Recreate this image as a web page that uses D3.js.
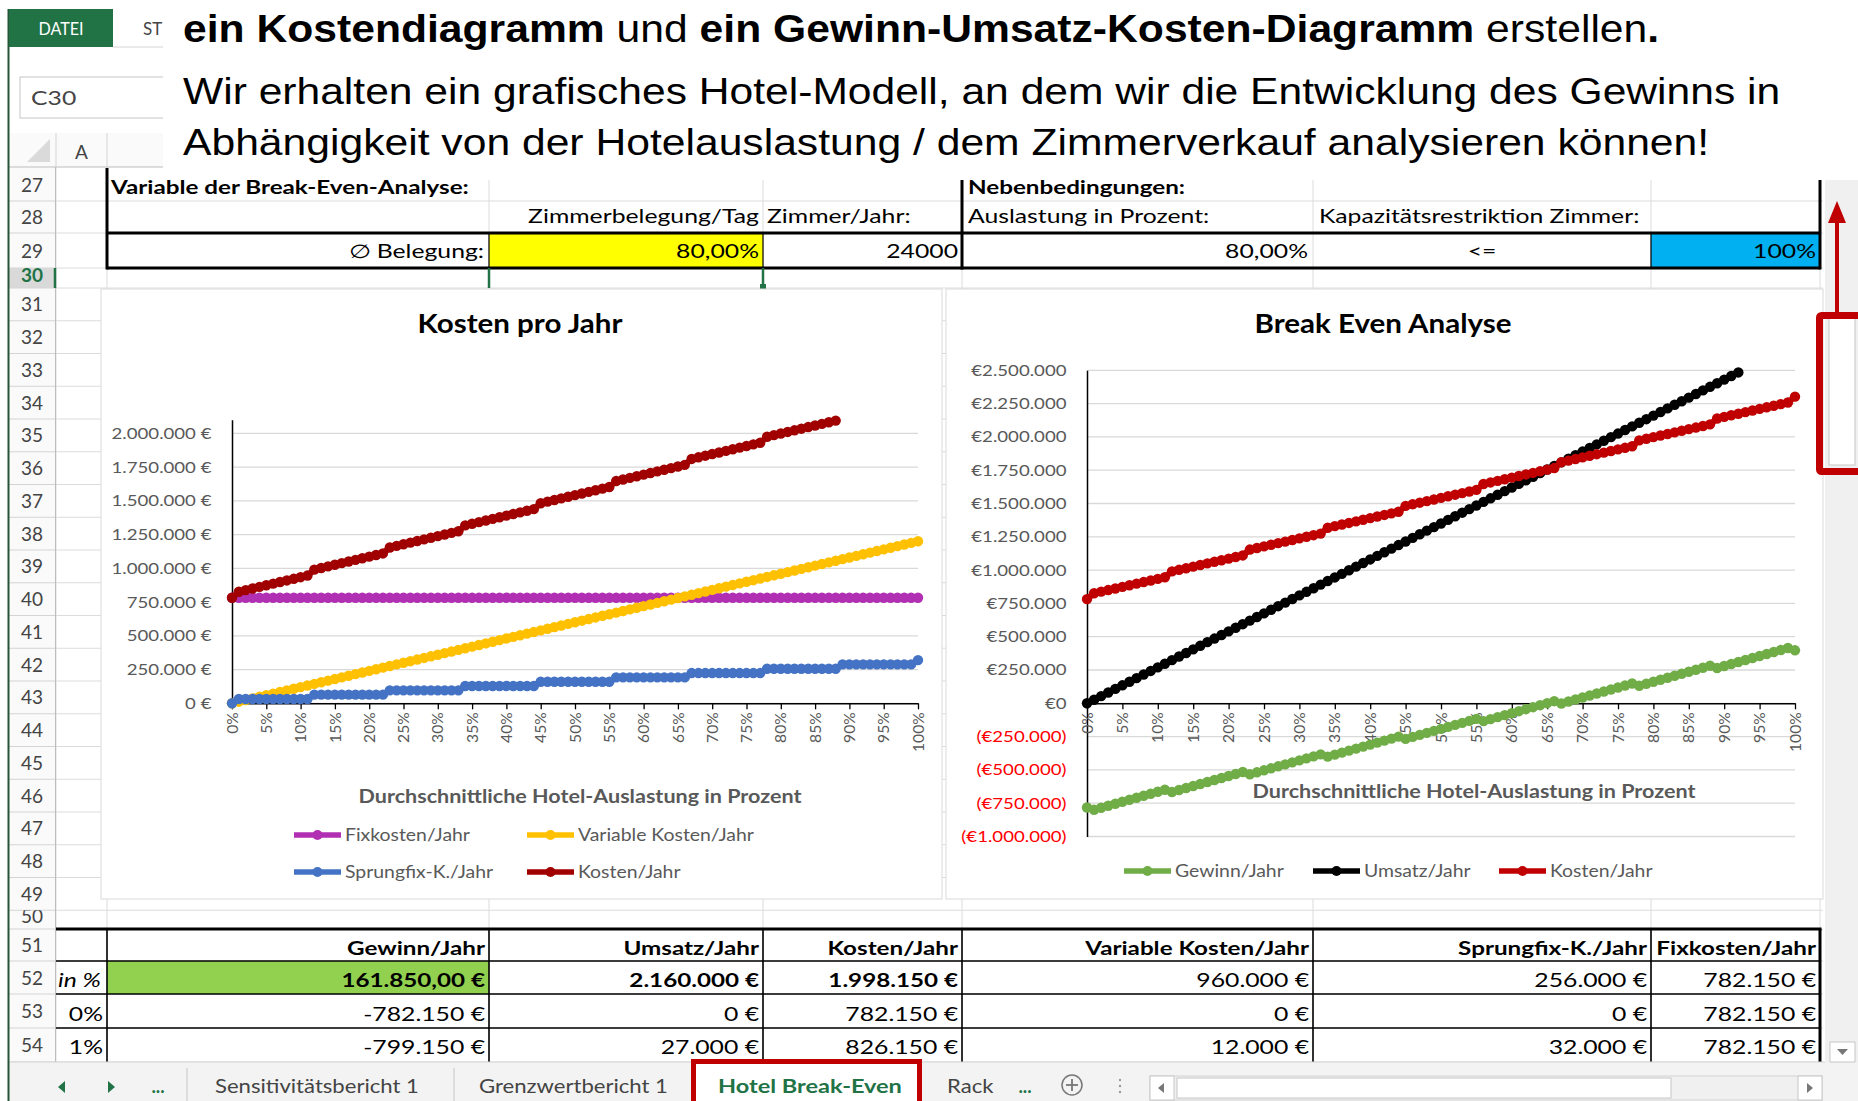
<!DOCTYPE html>
<html lang="de">
<head>
<meta charset="utf-8">
<title>Hotel Break-Even</title>
<script src="https://cdn.jsdelivr.net/npm/d3@7"></script>
<style>
  html, body { margin: 0; padding: 0; background: #fff; }
  svg { display: block; }
</style>
</head>
<body>
<svg id="blatt" width="1858" height="1101"></svg>
<script>
// Werte aus dem Blatt "Hotel Break-Even", eine Zeile je Prozent Auslastung (0% .. 100%)
const auslastung = [
  0, 1, 2, 3, 4, 5, 6, 7, 8, 9, 10, 11, 12, 13, 14, 15, 16, 17, 18, 19,
  20, 21, 22, 23, 24, 25, 26, 27, 28, 29, 30, 31, 32, 33, 34, 35, 36, 37, 38, 39,
  40, 41, 42, 43, 44, 45, 46, 47, 48, 49, 50, 51, 52, 53, 54, 55, 56, 57, 58, 59,
  60, 61, 62, 63, 64, 65, 66, 67, 68, 69, 70, 71, 72, 73, 74, 75, 76, 77, 78, 79,
  80, 81, 82, 83, 84, 85, 86, 87, 88, 89, 90, 91, 92, 93, 94, 95, 96, 97, 98, 99, 100
];

const fixkosten = [
  782150, 782150, 782150, 782150, 782150, 782150, 782150, 782150, 782150, 782150,
  782150, 782150, 782150, 782150, 782150, 782150, 782150, 782150, 782150, 782150,
  782150, 782150, 782150, 782150, 782150, 782150, 782150, 782150, 782150, 782150,
  782150, 782150, 782150, 782150, 782150, 782150, 782150, 782150, 782150, 782150,
  782150, 782150, 782150, 782150, 782150, 782150, 782150, 782150, 782150, 782150,
  782150, 782150, 782150, 782150, 782150, 782150, 782150, 782150, 782150, 782150,
  782150, 782150, 782150, 782150, 782150, 782150, 782150, 782150, 782150, 782150,
  782150, 782150, 782150, 782150, 782150, 782150, 782150, 782150, 782150, 782150,
  782150, 782150, 782150, 782150, 782150, 782150, 782150, 782150, 782150, 782150,
  782150, 782150, 782150, 782150, 782150, 782150, 782150, 782150, 782150, 782150,
  782150
];

const variableKosten = [
  0, 12000, 24000, 36000, 48000, 60000, 72000, 84000, 96000, 108000,
  120000, 132000, 144000, 156000, 168000, 180000, 192000, 204000, 216000, 228000,
  240000, 252000, 264000, 276000, 288000, 300000, 312000, 324000, 336000, 348000,
  360000, 372000, 384000, 396000, 408000, 420000, 432000, 444000, 456000, 468000,
  480000, 492000, 504000, 516000, 528000, 540000, 552000, 564000, 576000, 588000,
  600000, 612000, 624000, 636000, 648000, 660000, 672000, 684000, 696000, 708000,
  720000, 732000, 744000, 756000, 768000, 780000, 792000, 804000, 816000, 828000,
  840000, 852000, 864000, 876000, 888000, 900000, 912000, 924000, 936000, 948000,
  960000, 972000, 984000, 996000, 1008000, 1020000, 1032000, 1044000, 1056000, 1068000,
  1080000, 1092000, 1104000, 1116000, 1128000, 1140000, 1152000, 1164000, 1176000, 1188000,
  1200000
];

const sprungfixKosten = [
  0, 32000, 32000, 32000, 32000, 32000, 32000, 32000, 32000, 32000,
  32000, 32000, 64000, 64000, 64000, 64000, 64000, 64000, 64000, 64000,
  64000, 64000, 64000, 96000, 96000, 96000, 96000, 96000, 96000, 96000,
  96000, 96000, 96000, 96000, 128000, 128000, 128000, 128000, 128000, 128000,
  128000, 128000, 128000, 128000, 128000, 160000, 160000, 160000, 160000, 160000,
  160000, 160000, 160000, 160000, 160000, 160000, 192000, 192000, 192000, 192000,
  192000, 192000, 192000, 192000, 192000, 192000, 192000, 224000, 224000, 224000,
  224000, 224000, 224000, 224000, 224000, 224000, 224000, 224000, 256000, 256000,
  256000, 256000, 256000, 256000, 256000, 256000, 256000, 256000, 256000, 288000,
  288000, 288000, 288000, 288000, 288000, 288000, 288000, 288000, 288000, 288000,
  320000
];

const kostenJahr = [
  782150, 826150, 838150, 850150, 862150, 874150, 886150, 898150, 910150, 922150,
  934150, 946150, 990150, 1002150, 1014150, 1026150, 1038150, 1050150, 1062150, 1074150,
  1086150, 1098150, 1110150, 1154150, 1166150, 1178150, 1190150, 1202150, 1214150, 1226150,
  1238150, 1250150, 1262150, 1274150, 1318150, 1330150, 1342150, 1354150, 1366150, 1378150,
  1390150, 1402150, 1414150, 1426150, 1438150, 1482150, 1494150, 1506150, 1518150, 1530150,
  1542150, 1554150, 1566150, 1578150, 1590150, 1602150, 1646150, 1658150, 1670150, 1682150,
  1694150, 1706150, 1718150, 1730150, 1742150, 1754150, 1766150, 1810150, 1822150, 1834150,
  1846150, 1858150, 1870150, 1882150, 1894150, 1906150, 1918150, 1930150, 1974150, 1986150,
  1998150, 2010150, 2022150, 2034150, 2046150, 2058150, 2070150, 2082150, 2094150, 2138150,
  2150150, 2162150, 2174150, 2186150, 2198150, 2210150, 2222150, 2234150, 2246150, 2258150,
  2302150
];

const umsatzJahr = [
  0, 27000, 54000, 81000, 108000, 135000, 162000, 189000, 216000, 243000,
  270000, 297000, 324000, 351000, 378000, 405000, 432000, 459000, 486000, 513000,
  540000, 567000, 594000, 621000, 648000, 675000, 702000, 729000, 756000, 783000,
  810000, 837000, 864000, 891000, 918000, 945000, 972000, 999000, 1026000, 1053000,
  1080000, 1107000, 1134000, 1161000, 1188000, 1215000, 1242000, 1269000, 1296000, 1323000,
  1350000, 1377000, 1404000, 1431000, 1458000, 1485000, 1512000, 1539000, 1566000, 1593000,
  1620000, 1647000, 1674000, 1701000, 1728000, 1755000, 1782000, 1809000, 1836000, 1863000,
  1890000, 1917000, 1944000, 1971000, 1998000, 2025000, 2052000, 2079000, 2106000, 2133000,
  2160000, 2187000, 2214000, 2241000, 2268000, 2295000, 2322000, 2349000, 2376000, 2403000,
  2430000, 2457000, 2484000, 2511000, 2538000, 2565000, 2592000, 2619000, 2646000, 2673000,
  2700000
];

const gewinnJahr = [
  -782150, -799150, -784150, -769150, -754150, -739150, -724150, -709150, -694150, -679150,
  -664150, -649150, -666150, -651150, -636150, -621150, -606150, -591150, -576150, -561150,
  -546150, -531150, -516150, -533150, -518150, -503150, -488150, -473150, -458150, -443150,
  -428150, -413150, -398150, -383150, -400150, -385150, -370150, -355150, -340150, -325150,
  -310150, -295150, -280150, -265150, -250150, -267150, -252150, -237150, -222150, -207150,
  -192150, -177150, -162150, -147150, -132150, -117150, -134150, -119150, -104150, -89150,
  -74150, -59150, -44150, -29150, -14150, 850, 15850, -1150, 13850, 28850,
  43850, 58850, 73850, 88850, 103850, 118850, 133850, 148850, 131850, 146850,
  161850, 176850, 191850, 206850, 221850, 236850, 251850, 266850, 281850, 264850,
  279850, 294850, 309850, 324850, 339850, 354850, 369850, 384850, 399850, 414850,
  397850
];

// Achsenbeschriftungen
const prozentWerte = [0, 5, 10, 15, 20, 25, 30, 35, 40, 45, 50, 55, 60, 65, 70, 75, 80, 85, 90, 95, 100];
const prozentTexte = ['0%', '5%', '10%', '15%', '20%', '25%', '30%', '35%', '40%', '45%', '50%',
  '55%', '60%', '65%', '70%', '75%', '80%', '85%', '90%', '95%', '100%'];
const kostenTicks = [0, 250000, 500000, 750000, 1000000, 1250000, 1500000, 1750000, 2000000];
const kostenTickTexte = ['0 €', '250.000 €', '500.000 €', '750.000 €', '1.000.000 €',
  '1.250.000 €', '1.500.000 €', '1.750.000 €', '2.000.000 €'];
const breakEvenTicks = [-1000000, -750000, -500000, -250000, 0, 250000, 500000, 750000,
  1000000, 1250000, 1500000, 1750000, 2000000, 2250000, 2500000];
const breakEvenTickTexte = ['(€1.000.000)', '(€750.000)', '(€500.000)', '(€250.000)', '€0',
  '€250.000', '€500.000', '€750.000', '€1.000.000', '€1.250.000', '€1.500.000',
  '€1.750.000', '€2.000.000', '€2.250.000', '€2.500.000'];
const achsenTitel = 'Durchschnittliche Hotel-Auslastung in Prozent';

// Tabellen im Blatt
const tabKopf = ['Gewinn/Jahr', 'Umsatz/Jahr', 'Kosten/Jahr', 'Variable Kosten/Jahr', 'Sprungfix-K./Jahr', 'Fixkosten/Jahr'];
const tabZeilen = [
  ['in %', '161.850,00 €', '2.160.000 €', '1.998.150 €', '960.000 €', '256.000 €', '782.150 €'],
  ['0%', '-782.150 €', '0 €', '782.150 €', '0 €', '0 €', '782.150 €'],
  ['1%', '-799.150 €', '27.000 €', '826.150 €', '12.000 €', '32.000 €', '782.150 €']
];
const blattTabs = ['Sensitivitätsbericht 1', 'Grenzwertbericht 1', 'Hotel Break-Even', 'Rack'];


let svg = d3.select('svg#blatt');

const EXCEL = 'Lato, "Open Sans", sans-serif';
const FOLIE = '"Liberation Sans", Arial, sans-serif';

function font(size, weight, style) {
    return { size: size, weight: weight || 400, style: style || 'normal' };
}

function txt(g, x, y, s, f, o) {
    o = o || {};
    return g.append('text')
        .datum({ x: x, y: y })
        .attr('transform', 'translate(' + x + ',' + y + ') scale(' + (o.sx || 1) + ',1)')
        .attr('text-anchor', o.anchor || 'start')
        .attr('font-family', o.family || EXCEL)
        .attr('font-size', f.size)
        .attr('font-weight', f.weight)
        .attr('font-style', f.style)
        .attr('fill', o.fill || '#000')
        .text(s);
}

function breite(s, f, family) {
    let t = txt(svg, 0, -200, s, f, { family: family });
    let w = t.node().getComputedTextLength();
    t.remove();
    return w;
}

// Text auf eine gemessene Breite ziehen (das Bildschirmfoto ist breit gezogen)
function einpassen(t, w) {
    let d = t.datum();
    let n = t.node().getComputedTextLength();
    t.attr('transform', 'translate(' + d.x + ',' + d.y + ') scale(' + (w / n) + ',1)');
    return t;
}

function linie(g, x1, y1, x2, y2, farbe, dicke) {
    return g.append('line')
        .attr('x1', x1).attr('y1', y1).attr('x2', x2).attr('y2', y2)
        .attr('stroke', farbe).attr('stroke-width', dicke || 1);
}

const fZelle = font(18.5), fZelleB = font(18.5, 700), fZelleI = font(18.5, 400, 'italic');
const fZeile = font(19), fTick = font(15.6), fLeg = font(17);
const fTitel = font(26, 700), fAchse = font(18, 700), fTab = font(18.5), fTabB = font(18.5, 700);

const sxZelle = 231 / breite('Zimmerbelegung/Tag', fZelle);
const sxZelleB = 224 / breite('Variable Kosten/Jahr', fZelleB);
const sxTick = 100 / breite('2.000.000 €', fTick);
const sxLeg = 176 / breite('Variable Kosten/Jahr', fLeg);
const sxTitel = 205 / breite('Kosten pro Jahr', fTitel);
const sxAchse = 443 / breite(achsenTitel, fAchse);
const sxTab = 204 / breite('Sensitivitätsbericht 1', fTab);

// ---------------- Tabellenblatt ----------------
const spalten = [56, 107, 489, 763, 962, 1313, 1651, 1820];
let zeilen = [[27, 168, 201], [28, 201, 233], [29, 233, 268], [30, 268, 288]];
for (let k = 31; k <= 49; k++) {
    zeilen.push([k, 288 + (k - 31) * 32.75, 288 + (k - 30) * 32.75]);
}
zeilen.push([50, 910.25, 929], [51, 929, 961], [52, 961, 994], [53, 994, 1028], [54, 1028, 1062]);

let blatt = svg.append('g');
blatt.append('rect').attr('width', 1858).attr('height', 1101).attr('fill', '#fff');

zeilen.forEach(function(z) { linie(blatt, 56, z[2], 1823, z[2], '#dcdcdc'); });
spalten.forEach(function(x) { linie(blatt, x, 167, x, 1062, '#dcdcdc'); });

// Zeilenköpfe (Zeilen 30 und 50 sind im Foto nur halb zu sehen)
let defs = svg.append('defs');
blatt.append('rect').attr('x', 9).attr('y', 133).attr('width', 47).attr('height', 929).attr('fill', '#fafafa');
zeilen.forEach(function(z) {
    let aktiv = z[0] === 30;
    let gequetscht = z[2] - z[1] < 25;
    defs.append('clipPath').attr('id', 'z' + z[0])
        .append('rect').attr('x', 9).attr('y', z[1]).attr('width', 47).attr('height', z[2] - z[1]);
    if (aktiv) {
        blatt.append('rect').attr('x', 9).attr('y', z[1]).attr('width', 46).attr('height', z[2] - z[1]).attr('fill', '#d9d9d9');
    }
    let zg = blatt.append('g').attr('clip-path', 'url(#z' + z[0] + ')');
    txt(zg, 32, gequetscht ? z[2] - 6 : (z[1] + z[2]) / 2 + 7, String(z[0]), aktiv ? font(19, 700) : fZeile,
        { anchor: 'middle', fill: aktiv ? '#217346' : '#444' });
    linie(blatt, 9, z[2], 56, z[2], '#d4d4d4');
});
linie(blatt, 55.5, 133, 55.5, 1062, '#bdbdbd');
linie(blatt, 55, 268, 55, 288, '#217346', 2.5);

// Spaltenkopf
blatt.append('rect').attr('x', 9).attr('y', 133).attr('width', 160).attr('height', 34).attr('fill', '#fafafa');
linie(blatt, 9, 167, 169, 167, '#bdbdbd');
linie(blatt, 56, 133, 56, 167, '#d4d4d4');
linie(blatt, 107, 133, 107, 167, '#d4d4d4');
blatt.append('polygon').attr('points', '50,139 50,162 27,162').attr('fill', '#dadada');
txt(blatt, 81.5, 159, 'A', fZeile, { anchor: 'middle', fill: '#444' });

// Eingabetabelle Zeilen 27-29
blatt.append('rect').attr('x', 489).attr('y', 233).attr('width', 274).attr('height', 35).attr('fill', '#ffff00');
blatt.append('rect').attr('x', 1651).attr('y', 233).attr('width', 169).attr('height', 35).attr('fill', '#00b0f0');
linie(blatt, 107, 233, 1820, 233, '#000', 3);
linie(blatt, 107, 268, 1820, 268, '#000', 3);
linie(blatt, 107, 168, 107, 269.5, '#000', 3);
linie(blatt, 962, 168, 962, 269.5, '#000', 3);
linie(blatt, 1820, 168, 1820, 269.5, '#000', 3);
[489, 763, 1651].forEach(function(x) { linie(blatt, x, 233, x, 268, '#000', 1.2); });

txt(blatt, 111, 193.5, 'Variable der Break-Even-Analyse:', fZelleB, { sx: sxZelleB });
txt(blatt, 968, 193.5, 'Nebenbedingungen:', fZelleB, { sx: sxZelleB });
txt(blatt, 759, 223, 'Zimmerbelegung/Tag', fZelle, { anchor: 'end', sx: sxZelle });
txt(blatt, 767, 223, 'Zimmer/Jahr:', fZelle, { sx: sxZelle });
txt(blatt, 968, 223, 'Auslastung in Prozent:', fZelle, { sx: sxZelle });
txt(blatt, 1319, 223, 'Kapazitätsrestriktion Zimmer:', fZelle, { sx: sxZelle });
txt(blatt, 484, 258, '∅ Belegung:', fZelle, { anchor: 'end', sx: sxZelle });
txt(blatt, 759, 258, '80,00%', fZelle, { anchor: 'end', sx: sxZelle });
txt(blatt, 958, 258, '24000', fZelle, { anchor: 'end', sx: sxZelle });
txt(blatt, 1308, 258, '80,00%', fZelle, { anchor: 'end', sx: sxZelle });
txt(blatt, 1482, 258, '<=', fZelle, { anchor: 'middle', sx: sxZelle });
txt(blatt, 1816, 258, '100%', fZelle, { anchor: 'end', sx: sxZelle });

// markierte Zelle C30
linie(blatt, 489, 268, 489, 288, '#217346', 2.5);
linie(blatt, 763, 268, 763, 286, '#217346', 2.5);
blatt.append('rect').attr('x', 760).attr('y', 284).attr('width', 6).attr('height', 6).attr('fill', '#217346');

// Ergebnistabelle Zeilen 51-54
blatt.append('rect').attr('x', 107).attr('y', 961).attr('width', 382).attr('height', 33).attr('fill', '#92d050');
[961, 994, 1028].forEach(function(y) { linie(blatt, 56, y, 1820, y, '#000', 1.6); });
linie(blatt, 56, 929, 1821.5, 929, '#000', 3);
[107, 489, 763, 962, 1313, 1651].forEach(function(x) { linie(blatt, x, 929, x, 1062, '#000', 1.6); });
linie(blatt, 1820, 929, 1820, 1062, '#000', 3);

tabKopf.forEach(function(s, i) {
    txt(blatt, spalten[i + 2] - 4, 955, s, fZelleB, { anchor: 'end', sx: sxZelleB });
});
tabZeilen.forEach(function(r, j) {
    let y = 987 + j * 33.5;
    if (j === 0) txt(blatt, 58, y, r[0], fZelleI, { sx: sxZelle });
    else txt(blatt, 103, y, r[0], fZelle, { anchor: 'end', sx: sxZelle });
    r.slice(1).forEach(function(s, i) {
        let fett = j === 0 && i < 3;
        txt(blatt, spalten[i + 2] - 4, y, s, fett ? fZelleB : fZelle,
            { anchor: 'end', sx: fett ? sxZelleB : sxZelle });
    });
});

// ---------------- Diagramme ----------------
function diagramm(c) {
    let g = svg.append('g');
    let r = c.rahmen;
    g.append('rect').attr('x', r[0]).attr('y', r[1]).attr('width', r[2] - r[0]).attr('height', r[3] - r[1])
        .attr('fill', '#fff').attr('stroke', '#d9d9d9');
    txt(g, c.titelX, 333, c.titel, fTitel, { anchor: 'middle', sx: sxTitel });

    let x0 = c.x.range()[0], x1 = c.x.range()[1];
    g.append('g').selectAll('line')
        .data(c.yWerte)
        .enter().append('line')
        .attr('x1', x0).attr('x2', x1)
        .attr('y1', function(d) { return c.y(d); })
        .attr('y2', function(d) { return c.y(d); })
        .attr('stroke', '#d9d9d9').attr('stroke-width', 1.3);

    let ay = g.append('g')
        .attr('transform', 'translate(' + x0 + ',0)')
        .call(d3.axisLeft(c.y).tickValues(c.yWerte)
            .tickFormat(function(d, i) { return c.yTexte[i]; })
            .tickSize(0).tickPadding(0));
    ay.select('.domain').attr('stroke', '#000').attr('stroke-width', 1.5);
    ay.selectAll('text')
        .attr('x', null)
        .attr('transform', 'translate(-20.5,0) scale(' + sxTick + ',1)')
        .attr('font-family', EXCEL).attr('font-size', fTick.size)
        .attr('fill', function(d) { return d < 0 ? '#ff0000' : '#595959'; });

    let ax = g.append('g')
        .attr('transform', 'translate(0,' + c.y(0) + ')')
        .call(d3.axisBottom(c.x).tickValues(prozentWerte)
            .tickFormat(function(d, i) { return prozentTexte[i]; })
            .tickSizeInner(6).tickSizeOuter(0));
    ax.select('.domain').attr('stroke', '#000').attr('stroke-width', 1.5);
    ax.selectAll('.tick line').attr('stroke', '#000').attr('stroke-width', 1.3);
    ax.selectAll('text')
        .attr('transform', 'rotate(-90)')
        .attr('text-anchor', 'end')
        .attr('x', -9).attr('y', 0).attr('dy', '0.33em')
        .attr('font-family', EXCEL).attr('font-size', fTick.size)
        .attr('fill', '#595959');

    txt(g, c.achseX, c.achseY, achsenTitel, fAchse, { anchor: 'middle', sx: sxAchse, fill: '#595959' });

    c.reihen.forEach(function(s) {
        let pts = auslastung
            .map(function(p, i) { return [p, s.werte[i]]; })
            .filter(function(d) { return d[1] <= c.y.domain()[1]; });
        g.append('path')
            .attr('d', d3.line()
                .x(function(d) { return c.x(d[0]); })
                .y(function(d) { return c.y(d[1]); })(pts))
            .attr('fill', 'none').attr('stroke', s.farbe)
            .attr('stroke-width', 6).attr('stroke-linejoin', 'round');
        g.append('g').selectAll('circle')
            .data(pts)
            .enter().append('circle')
            .attr('cx', function(d) { return c.x(d[0]); })
            .attr('cy', function(d) { return c.y(d[1]); })
            .attr('r', 5.2)
            .attr('fill', s.farbe);
        linie(g, s.lx, s.ly, s.lx + 47, s.ly, s.farbe, 5.5);
        g.append('circle').attr('cx', s.lx + 23.5).attr('cy', s.ly).attr('r', 5).attr('fill', s.farbe);
        txt(g, s.lx + 51, s.ly + 6, s.name, fLeg, { sx: sxLeg, fill: '#595959' });
    });
}

diagramm({
    rahmen: [101, 289, 942, 899],
    titel: 'Kosten pro Jahr', titelX: 520,
    achseX: 580, achseY: 803,
    x: d3.scaleLinear().domain([0, 100]).range([232, 918]),
    y: d3.scaleLinear().domain([0, 2100000]).range([703.3, 419.8]),
    yWerte: kostenTicks, yTexte: kostenTickTexte,
    reihen: [
        { name: 'Fixkosten/Jahr', werte: fixkosten, farbe: '#b12fb2', lx: 294, ly: 835 },
        { name: 'Variable Kosten/Jahr', werte: variableKosten, farbe: '#ffc000', lx: 527, ly: 835 },
        { name: 'Sprungfix-K./Jahr', werte: sprungfixKosten, farbe: '#4472c4', lx: 294, ly: 872 },
        { name: 'Kosten/Jahr', werte: kostenJahr, farbe: '#a00000', lx: 527, ly: 872 }
    ]
});

diagramm({
    rahmen: [946, 289, 1823, 899],
    titel: 'Break Even Analyse', titelX: 1383,
    achseX: 1474, achseY: 798,
    x: d3.scaleLinear().domain([0, 100]).range([1087, 1795]),
    y: d3.scaleLinear().domain([-1000000, 2500000]).range([836.5, 370.3]),
    yWerte: breakEvenTicks, yTexte: breakEvenTickTexte,
    reihen: [
        { name: 'Gewinn/Jahr', werte: gewinnJahr, farbe: '#70ad47', lx: 1124, ly: 871 },
        { name: 'Umsatz/Jahr', werte: umsatzJahr, farbe: '#000000', lx: 1313, ly: 871 },
        { name: 'Kosten/Jahr', werte: kostenJahr, farbe: '#c00000', lx: 1499, ly: 871 }
    ]
});

// ---------------- Blattregister ----------------
let reg = svg.append('g');
reg.append('rect').attr('x', 9).attr('y', 1062).attr('width', 1849).attr('height', 39).attr('fill', '#f3f3f3');
linie(reg, 9, 1062, 1825, 1062, '#d4d4d4');
reg.append('polygon').attr('points', '58,1087 65,1081 65,1093').attr('fill', '#217346');
reg.append('polygon').attr('points', '108,1081 108,1093 115,1087').attr('fill', '#217346');
txt(reg, 158, 1093, '...', fTabB, { anchor: 'middle', fill: '#217346' });
linie(reg, 187, 1068, 187, 1101, '#c6c6c6');
linie(reg, 454, 1068, 454, 1101, '#c6c6c6');
txt(reg, 215, 1093, blattTabs[0], fTab, { sx: sxTab, fill: '#444' });
txt(reg, 479, 1093, blattTabs[1], fTab, { sx: sxTab, fill: '#444' });
reg.append('rect').attr('x', 693).attr('y', 1062).attr('width', 226).attr('height', 42).attr('fill', '#fff');
einpassen(txt(reg, 718, 1093, blattTabs[2], fTabB, { fill: '#217346' }), 184);
reg.append('rect').attr('x', 693.5).attr('y', 1061.5).attr('width', 226).attr('height', 45)
    .attr('fill', 'none').attr('stroke', '#c00000').attr('stroke-width', 5);
txt(reg, 947, 1093, blattTabs[3], fTab, { sx: sxTab, fill: '#444' });
txt(reg, 1025, 1093, '...', fTabB, { anchor: 'middle', fill: '#217346' });
reg.append('circle').attr('cx', 1072).attr('cy', 1085).attr('r', 10).attr('fill', 'none').attr('stroke', '#777').attr('stroke-width', 1.5);
linie(reg, 1066, 1085, 1078, 1085, '#777', 1.8);
linie(reg, 1072, 1079, 1072, 1091, '#777', 1.8);
[1080, 1086, 1092].forEach(function(y) { reg.append('circle').attr('cx', 1120).attr('cy', y).attr('r', 1.2).attr('fill', '#999'); });
reg.append('rect').attr('x', 1150).attr('y', 1076).attr('width', 672).attr('height', 24).attr('fill', '#f0f0f0').attr('stroke', '#d4d4d4');
reg.append('rect').attr('x', 1150).attr('y', 1076).attr('width', 24).attr('height', 24).attr('fill', '#fff').attr('stroke', '#c6c6c6');
reg.append('polygon').attr('points', '1158,1088 1164,1083 1164,1093').attr('fill', '#777');
reg.append('rect').attr('x', 1177).attr('y', 1078).attr('width', 494).attr('height', 20).attr('fill', '#fff').attr('stroke', '#c6c6c6');
reg.append('rect').attr('x', 1798).attr('y', 1076).attr('width', 24).attr('height', 24).attr('fill', '#fff').attr('stroke', '#c6c6c6');
reg.append('polygon').attr('points', '1807,1083 1807,1093 1813,1088').attr('fill', '#777');

// senkrechte Bildlaufleiste
let bild = svg.append('g');
bild.append('rect').attr('x', 1825).attr('y', 178).attr('width', 33).attr('height', 884).attr('fill', '#f0f0f0');
bild.append('rect').attr('x', 1829).attr('y', 318).attr('width', 26).attr('height', 147).attr('fill', '#fff').attr('stroke', '#c6c6c6');
bild.append('rect').attr('x', 1830).attr('y', 1042).attr('width', 25).attr('height', 20).attr('fill', '#fff').attr('stroke', '#c6c6c6');
bild.append('polygon').attr('points', '1837,1049 1848,1049 1842.5,1055').attr('fill', '#777');

// Menüband und Namenfeld
let band = svg.append('g');
linie(band, 8.5, 9, 8.5, 1101, '#26553a', 2);
band.append('rect').attr('x', 9).attr('y', 9).attr('width', 104).attr('height', 38).attr('fill', '#217346');
txt(band, 61, 35, 'DATEI', font(17), { anchor: 'middle', fill: '#fff', sx: 0.95 });
txt(band, 143, 35, 'ST', font(17), { fill: '#444' });
linie(band, 113, 47, 163, 47, '#d4d4d4');
band.append('rect').attr('x', 20).attr('y', 77).attr('width', 160).attr('height', 41).attr('fill', '#fff').attr('stroke', '#c6c6c6');
txt(band, 31, 105, 'C30', fZelle, { fill: '#444', sx: sxZelle });

// ---------------- Folientext ----------------
let folie = svg.append('g');
folie.append('rect').attr('x', 163).attr('y', 0).attr('width', 1695).attr('height', 180).attr('fill', '#fff');

let z1 = folie.append('text').datum({ x: 183, y: 42 })
    .attr('font-family', FOLIE).attr('font-size', 38).attr('fill', '#000');
z1.append('tspan').attr('font-weight', 700).text('ein Kostendiagramm');
z1.append('tspan').text(' und ');
z1.append('tspan').attr('font-weight', 700).text('ein Gewinn-Umsatz-Kosten-Diagramm');
z1.append('tspan').text(' erstellen');
z1.append('tspan').attr('font-weight', 700).text('.');
einpassen(z1, 1477);
einpassen(txt(folie, 183, 104, 'Wir erhalten ein grafisches Hotel-Modell, an dem wir die Entwicklung des Gewinns in',
    font(37), { family: FOLIE }), 1598);
einpassen(txt(folie, 183, 155, 'Abhängigkeit von der Hotelauslastung / dem Zimmerverkauf analysieren können!',
    font(37), { family: FOLIE }), 1527);

// rote Markierung an der Bildlaufleiste
let rot = svg.append('g');
rot.append('rect').attr('x', 1819.5).attr('y', 315.5).attr('width', 50).attr('height', 156)
    .attr('fill', 'none').attr('stroke', '#c00000').attr('stroke-width', 7).attr('rx', 2);
linie(rot, 1837, 312, 1837, 218, '#c00000', 4);
rot.append('polygon').attr('points', '1837,201 1828,223 1846,223').attr('fill', '#c00000');
</script>
</body>
</html>
